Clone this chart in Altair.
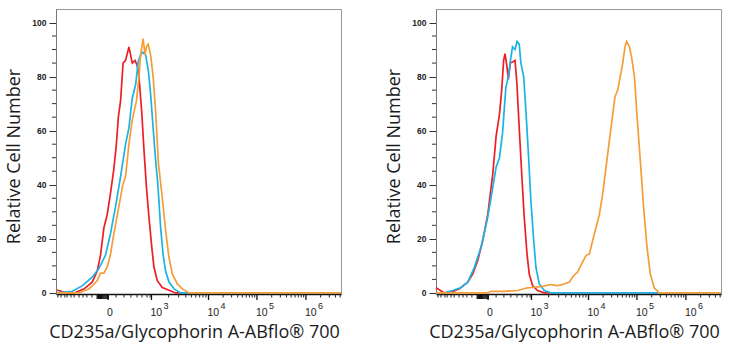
import altair as alt
import numpy as np
import pandas as pd

# Display channels of the biexponential FL axis (0 .. 1024 across the plot)
CH_MAX = 1024

# Channel positions of the labelled decades: 0, 10^3, 10^4, 10^5, 10^6
MAJOR_CH = [187, 343, 548, 722, 898]
MAJOR_BASE = ["0", "10", "10", "10", "10"]
MAJOR_EXP = ["", "3", "4", "5", "6"]

# Minor ticks on the negative / linear part of the axis
NEG_MINOR_CH = [7, 18, 32, 40, 54, 65, 83, 97, 111, 129]
LIN_MINOR_CH = [216, 244, 269, 291, 309, 327, 338]
# Dense tick block around zero
ZERO_BLOCK_CH = [148, 152, 156, 160, 164, 168, 172, 176, 180, 184, 188]

# ---- Left panel: histograms (channel, relative count) ----
L_RED_CH = [4, 35, 65, 101, 130, 148, 160, 172, 184, 196, 208, 217, 224, 232,
            241, 250, 262, 274, 284, 292, 298, 308, 316, 325, 334, 344, 352,
            364, 382, 406, 430, 1024]
L_RED_N = [1.1, 0, 0, 1.5, 4, 8, 14, 24, 29, 37, 46, 55, 65, 71,
           85, 86, 91, 85, 86, 84, 80, 67, 53, 39, 28, 17, 9.5,
           4.5, 2, 1, 0, 0]

L_CYAN_CH = [4, 59, 95, 130, 154, 178, 196, 214, 232, 250, 262, 274, 286, 296,
             304, 311, 322, 332, 340, 349, 358, 366, 376, 385, 394, 406, 424,
             448, 1024]
L_CYAN_N = [0, 0.6, 2.7, 5.8, 9, 14, 22, 32, 43, 55, 61, 72, 77, 86,
            88, 89, 88, 82, 73.5, 61, 49, 40, 24, 14, 8, 4, 1.5,
            0, 0]

L_ORANGE_CH = [4, 83, 119, 148, 160, 172, 184, 196, 208, 226, 240, 250, 262,
               274, 289, 298, 304, 310, 313, 320, 325, 331, 340, 349, 358, 368,
               382, 394, 406, 418, 436, 454, 478, 1024]
L_ORANGE_N = [0, 0, 1.5, 4.5, 7.3, 7.3, 9.5, 14.4, 22, 32, 40, 43, 55,
              64, 71, 80, 88, 92, 94, 88, 91, 92, 88, 80, 67, 48,
              35, 23, 13, 7, 3.3, 1.5, 0, 0]

# ---- Right panel ----
R_RED_CH = [0, 30, 54, 84, 114, 132, 150, 168, 186, 204, 216, 228, 236, 243,
            248, 255, 260, 267, 275, 284, 291, 299, 308, 317, 327, 335, 347,
            365, 389, 1024]
R_RED_N = [1.9, 0, 0.2, 1.5, 4, 7, 12, 19.4, 29, 44, 58, 66, 75, 86,
           88.5, 83.6, 79, 85, 85.4, 86, 77, 61, 44, 28, 14.4, 7, 2.7,
           0.9, 0, 0]

R_CYAN_CH = [0, 30, 60, 90, 114, 138, 162, 186, 204, 216, 228, 239, 251, 260,
             269, 275, 284, 291, 299, 305, 315, 323, 332, 341, 351, 359, 371,
             389, 413, 1024]
R_CYAN_N = [0, 0, 0.9, 2, 4, 9.5, 17, 28, 39, 46.5, 50, 59, 76, 80,
            87, 91, 90, 93, 92, 85, 80, 67.5, 51.5, 34, 19.4, 9.5, 3.3,
            0.9, 0, 0]

R_ORANGE_CH = [0, 186, 198, 245, 293, 329, 353, 377, 413, 437, 461, 479, 495,
               509, 523, 539, 551, 563, 575, 587, 599, 611, 623, 635, 643, 653,
               662, 671, 679, 685, 695, 703, 713, 722, 734, 746, 758, 770, 784,
               802, 1024]
R_ORANGE_N = [0, 0, 0.6, 0.6, 0.9, 1.9, 2.1, 2.3, 3.1, 2.7, 3.3, 4, 6.4,
              7.7, 10.7, 13.8, 14.4, 19.4, 24.3, 29, 36.7, 46.5, 56.4, 66, 72.5, 75,
              80, 85, 91, 93, 91, 87, 80, 66, 49, 31.7, 17, 7, 1.9,
              0, 0]

Y_MAJOR = [0, 20, 40, 60, 80, 100]
Y_MINOR = [v for v in range(5, 100, 5) if v % 20 != 0]

RED, CYAN, ORANGE = "#ec1f26", "#1bb3e6", "#f59d38"
X_TITLE = "CD235a/Glycophorin A-ABflo® 700"
Y_TITLE = "Relative Cell Number"
TITLE_FONT = "Open Sans"
TICK_FONT = "Liberation Sans"

W, H = 285, 285


def log_minor_ticks(majors):
    """Minor ticks at 2..9 x 10^n inside each decade, plus above the last."""
    out = []
    spans = list(zip(majors[1:-1], majors[2:]))
    spans.append((majors[-1], majors[-1] + (majors[-1] - majors[-2])))
    for lo, hi in spans:
        for k in range(2, 10):
            c = lo + (hi - lo) * np.log10(k)
            if c <= CH_MAX:
                out.append(round(float(c), 1))
    return out


MINOR_CH = NEG_MINOR_CH + LIN_MINOR_CH + log_minor_ticks(MAJOR_CH)

x_scale = alt.Scale(domain=[0, CH_MAX], nice=False, zero=False)
y_scale = alt.Scale(domain=[-0.4, 105], nice=False, zero=False)


def x_enc():
    return alt.X(
        "ch:Q",
        scale=x_scale,
        axis=alt.Axis(
            labels=False, ticks=False, grid=False,
            domainColor="#111111", domainWidth=1.5,
            title=X_TITLE, titleFont=TITLE_FONT, titleFontSize=18,
            titleFontWeight="normal", titleColor="#1a1a1a",
            titlePadding=29, titleX=138,
        ),
    )


def y_enc(field):
    return alt.Y(
        field,
        scale=y_scale,
        axis=alt.Axis(
            values=Y_MAJOR, grid=False, tickSize=7, tickColor="#333333",
            domainColor="#777777", labelFont=TICK_FONT, labelFontSize=8.5,
            labelFontWeight="bold", labelColor="#222222", labelPadding=3,
            title=Y_TITLE, titleFont=TITLE_FONT, titleFontSize=18,
            titleFontWeight="normal", titleColor="#1a1a1a",
            titlePadding=8, titleY=147,
        ),
    )


def curve(ch, n, color):
    df = pd.DataFrame({"ch": ch, "n": n})
    return alt.Chart(df).mark_line(color=color, strokeWidth=1.7).encode(
        x=x_enc(), y=y_enc("n:Q")
    )


def panel(red, cyan, orange):
    minor = alt.Chart(pd.DataFrame({"ch": MINOR_CH})).mark_rule(
        color="#222222", strokeWidth=1
    ).encode(x=x_enc(), y=alt.value(H), y2=alt.value(H + 3.5))

    block = alt.Chart(pd.DataFrame({"ch": ZERO_BLOCK_CH})).mark_rule(
        color="#111111", strokeWidth=1.3
    ).encode(x=x_enc(), y=alt.value(H), y2=alt.value(H + 5))

    major = alt.Chart(pd.DataFrame({"ch": MAJOR_CH})).mark_rule(
        color="#111111", strokeWidth=1.3
    ).encode(x=x_enc(), y=alt.value(H), y2=alt.value(H + 6))

    labels_df = pd.DataFrame({"ch": MAJOR_CH, "base": MAJOR_BASE, "exp": MAJOR_EXP})
    base_txt = alt.Chart(labels_df).mark_text(
        align="left", baseline="middle", font=TICK_FONT, fontSize=10.5,
        color="#222222", dx=-1,
    ).encode(x=x_enc(), y=alt.value(H + 19), text="base:N")
    exp_txt = alt.Chart(labels_df).mark_text(
        align="left", baseline="middle", font=TICK_FONT, fontSize=9,
        color="#222222", dx=12,
    ).encode(x=x_enc(), y=alt.value(H + 12), text="exp:N")

    y_minor = alt.Chart(pd.DataFrame({"v": Y_MINOR})).mark_rule(
        color="#333333", strokeWidth=1
    ).encode(y=y_enc("v:Q"), x=alt.value(0), x2=alt.value(-4))

    return alt.layer(
        y_minor, minor, block, major, base_txt, exp_txt,
        curve(*red, RED), curve(*cyan, CYAN), curve(*orange, ORANGE),
    ).properties(width=W, height=H)


left = panel((L_RED_CH, L_RED_N), (L_CYAN_CH, L_CYAN_N), (L_ORANGE_CH, L_ORANGE_N))
right = panel((R_RED_CH, R_RED_N), (R_CYAN_CH, R_CYAN_N), (R_ORANGE_CH, R_ORANGE_N))

chart = alt.hconcat(left, right, spacing=95, bounds="flush").properties(
    padding={"left": 5, "top": 8, "right": 5, "bottom": 5},
    background="white",
).configure_view(stroke="#9a9a9a", strokeWidth=1)

chart.save("out.html", embed_options={"renderer": "svg", "actions": False})
